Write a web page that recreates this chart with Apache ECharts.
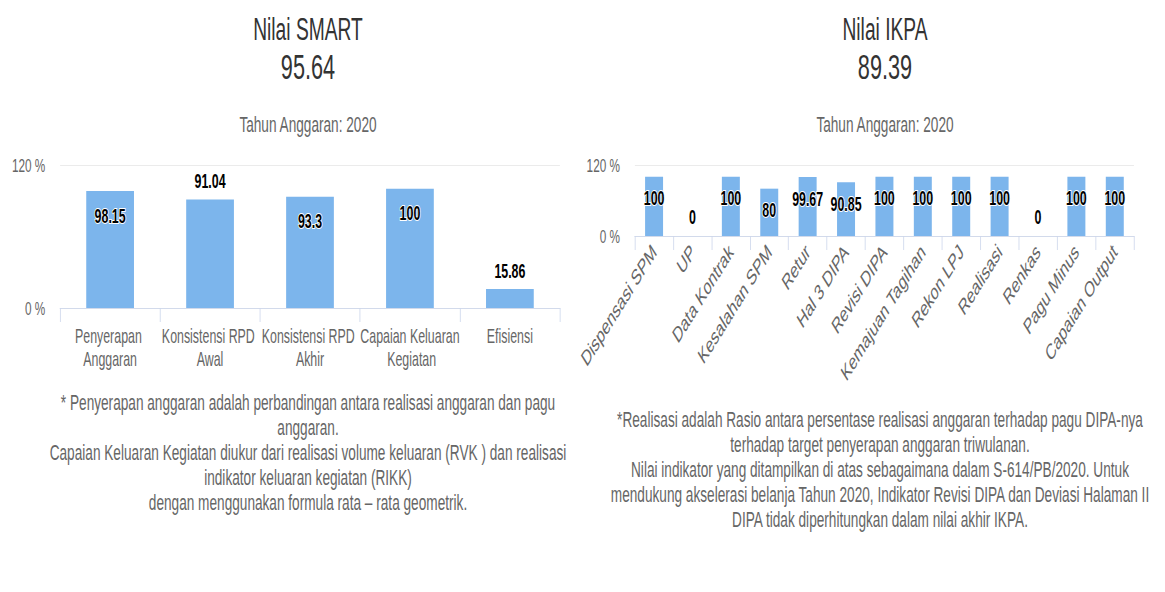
<!DOCTYPE html>
<html><head><meta charset="utf-8">
<script src="https://cdn.jsdelivr.net/npm/echarts@6/dist/echarts.min.js"></script>
<style>
html,body{margin:0;padding:0;background:#fff;overflow:hidden;width:1165px;height:592px;}
#wrap{width:1165px;height:592px;overflow:hidden;position:relative;}
#chart{width:1879px;height:592px;transform:scaleX(0.62);transform-origin:0 0;position:absolute;left:0;top:0;}
</style></head><body><div id="wrap"><div id="chart"></div></div>
<script>
// ---- data ----
const smartTitle = 'Nilai SMART';
const smartScore = '95.64';
const ikpaTitle = 'Nilai IKPA';
const ikpaScore = '89.39';
const yearLabel = 'Tahun Anggaran: 2020';
const smartCategories = ['Penyerapan Anggaran', 'Konsistensi RPD Awal', 'Konsistensi RPD Akhir', 'Capaian Keluaran Kegiatan', 'Efisiensi'];
const smartValues = [98.15, 91.04, 93.3, 100, 15.86];
const smartLabelAbove = [false, true, false, false, true];
const ikpaCategories = ['Dispensasi SPM', 'UP', 'Data Kontrak', 'Kesalahan SPM', 'Retur', 'Hal 3 DIPA', 'Revisi DIPA', 'Kemajuan Tagihan', 'Rekon LPJ', 'Realisasi', 'Renkas', 'Pagu Minus', 'Capaian Output'];
const ikpaValues = [100, 0, 100, 80, 99.67, 90.85, 100, 100, 100, 100, 0, 100, 100];
const yMin = 0, yMax = 120;
const smartNote = [
  '* Penyerapan anggaran adalah perbandingan antara realisasi anggaran dan pagu',
  'anggaran.',
  'Capaian Keluaran Kegiatan diukur dari realisasi volume keluaran (RVK ) dan realisasi',
  'indikator keluaran kegiatan (RIKK)',
  'dengan menggunakan formula rata \u2013 rata geometrik.'
];
const ikpaNote = [
  '*Realisasi adalah Rasio antara persentase realisasi anggaran terhadap pagu DIPA-nya',
  'terhadap target penyerapan anggaran triwulanan.',
  'Nilai indikator yang ditampilkan di atas sebagaimana dalam S-614/PB/2020. Untuk',
  'mendukung akselerasi belanja Tahun 2020, Indikator Revisi DIPA dan Deviasi Halaman II',
  'DIPA tidak diperhitungkan dalam nilai akhir IKPA.'
];

// ---- chart ----
const FONT = '"Liberation Sans", Arial, sans-serif';
const SX = 0.62;
const LC = 308 / SX, RC = 885 / SX, RN = 880 / SX;
const chart = echarts.init(document.getElementById('chart'), null, {renderer: 'svg'});

const labelBase = {
  show: true, fontSize: 20, fontWeight: 'bold', color: '#000',
  textBorderColor: '#fff', textBorderWidth: 2, fontFamily: FONT
};

const smartData = smartValues.map((v, i) => ({
  value: v,
  label: smartLabelAbove[i]
    ? Object.assign({}, labelBase, {position: 'top', distance: 8})
    : Object.assign({}, labelBase, {position: 'insideTop', distance: 15})
}));
const ikpaData = ikpaValues.map(v => ({
  value: v,
  label: v === 0
    ? Object.assign({}, labelBase, {position: 'top', distance: 9})
    : Object.assign({}, labelBase, {position: 'insideTop', distance: 12})
}));

function yAxisCfg(idx) {
  return {
    type: 'value', gridIndex: idx, min: yMin, max: yMax, interval: yMax - yMin,
    axisLine: {show: false}, axisTick: {show: false},
    axisLabel: {formatter: '{value} %', color: '#666', fontSize: 19, fontFamily: FONT, margin: 24},
    splitLine: {lineStyle: {color: '#e6e6e6', width: 1}}
  };
}

function titleCfg(text, x, top, size, lh, color) {
  return {text: text, left: x, top: top, padding: 0, textAlign: 'center',
          textStyle: {fontSize: size, lineHeight: lh, color: color, fontWeight: 'normal', fontFamily: FONT}};
}

chart.setOption({
  backgroundColor: '#fff',
  textStyle: {fontFamily: FONT},
  animation: false,
  title: [
    titleCfg(smartTitle, LC, 10, 31, 38, '#333'),
    titleCfg(smartScore, LC, 48, 35, 38, '#333'),
    titleCfg(yearLabel, LC, 112, 22, 24, '#666'),
    titleCfg(ikpaTitle, RC, 10, 31, 38, '#333'),
    titleCfg(ikpaScore, RC, 48, 35, 38, '#333'),
    titleCfg(yearLabel, RC, 112, 22, 24, '#666')
  ],
  grid: [
    {left: 97, top: 165, width: 806, height: 143, containLabel: false, outerBoundsMode: 'none'},
    {left: 1024, top: 165, width: 805, height: 71, containLabel: false, outerBoundsMode: 'none'}
  ],
  xAxis: [
    {type: 'category', gridIndex: 0, data: smartCategories,
     axisLine: {lineStyle: {color: '#ccd6eb'}},
     axisTick: {show: true, length: 14, lineStyle: {color: '#ccd6eb'}},
     axisLabel: {color: '#666', fontSize: 20, lineHeight: 23, width: 165, overflow: 'break',
                 margin: 17, interval: 0, fontFamily: FONT}},
    {type: 'category', gridIndex: 1, data: ikpaCategories,
     axisLine: {lineStyle: {color: '#ccd6eb'}},
     axisTick: {show: true, length: 14, lineStyle: {color: '#ccd6eb'}},
     axisLabel: {color: '#666', fontSize: 22, rotate: 45, margin: 12, interval: 0, fontFamily: FONT}}
  ],
  yAxis: [yAxisCfg(0), yAxisCfg(1)],
  series: [
    {type: 'bar', xAxisIndex: 0, yAxisIndex: 0, data: smartData, barWidth: 77,
     itemStyle: {color: '#7cb5ec'}},
    {type: 'bar', xAxisIndex: 1, yAxisIndex: 1, data: ikpaData, barWidth: 29,
     itemStyle: {color: '#7cb5ec'}}
  ],
  graphic: [
    {type: 'text', x: LC, y: 390,
     style: {text: smartNote.join('\n'), align: 'center', verticalAlign: 'top',
             fontSize: 22, lineHeight: 25, fill: '#666', fontFamily: FONT}},
    {type: 'text', x: RN, y: 407,
     style: {text: ikpaNote.join('\n'), align: 'center', verticalAlign: 'top',
             fontSize: 22, lineHeight: 25, fill: '#666', fontFamily: FONT}}
  ]
});
</script>
</body></html>
